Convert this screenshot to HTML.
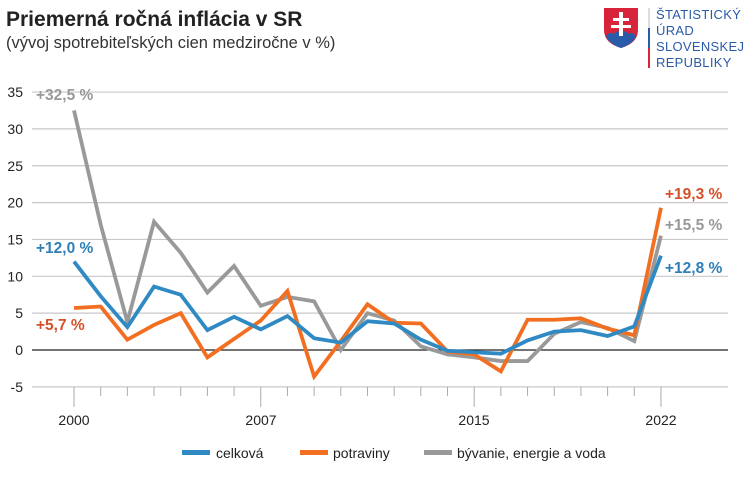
<!DOCTYPE html><html><head><meta charset="utf-8"><style>
body{margin:0;background:#fff;width:753px;height:475px;overflow:hidden;font-family:"Liberation Sans",sans-serif}
</style></head><body>
<svg id="s" width="753" height="475" xmlns="http://www.w3.org/2000/svg" font-family="Liberation Sans, sans-serif">
<text x="6" y="26" font-size="21" font-weight="bold" fill="#222">Priemerná ročná inflácia v SR</text>
<text x="6" y="48" font-size="16.5" fill="#333">(vývoj spotrebiteľských cien medziročne v %)</text>
<path d="M604 8 h34 v22 q0 13 -17 18 q-17 -5 -17 -18z" fill="#d8243a"/>
<path d="M606 36 q4 -5 8 -2 q4 -5 7 -1 q4 -4 7 1 q4 -3 8 2 q-3 8 -15 12 q-12 -4 -15 -12z" fill="#2a5ba8"/>
<path d="M619 12h4v24h-4zM613 18h16v3h-16zM611 25h20v3h-20z" fill="#fff"/>
<rect x="648" y="8" width="2" height="20" fill="#ddd"/><rect x="648" y="28" width="2" height="20" fill="#2a5ba8"/><rect x="648" y="48" width="2" height="20" fill="#d8243a"/>
<g font-size="13" fill="#2a5ba8" letter-spacing="0.3"><text x="656" y="19">ŠTATISTICKÝ</text><text x="656" y="35">ÚRAD</text><text x="656" y="51">SLOVENSKEJ</text><text x="656" y="67">REPUBLIKY</text></g>
<g id="g"></g>
<g font-size="14" fill="#222"><text x="74" y="425" text-anchor="middle">2000</text><text x="261" y="425" text-anchor="middle">2007</text><text x="474" y="425" text-anchor="middle">2015</text><text x="661" y="425" text-anchor="middle">2022</text></g>
<g font-size="15.5" font-weight="bold">
<text x="36" y="100" fill="#999">+32,5 %</text>
<text x="36" y="253" fill="#2e7fb8">+12,0 %</text>
<text x="36" y="330" fill="#d4512a">+5,7 %</text>
<text x="665" y="199" fill="#d4512a">+19,3 %</text>
<text x="665" y="230" fill="#999">+15,5 %</text>
<text x="665" y="273" fill="#2e7fb8">+12,8 %</text>
</g>
<g font-size="14" fill="#222">
<rect x="182" y="450" width="28" height="5" fill="#2f8ac4"/><text x="216" y="458">celková</text>
<rect x="300" y="450" width="28" height="5" fill="#f26f22"/><text x="333" y="458">potraviny</text>
<rect x="424" y="450" width="28" height="5" fill="#999"/><text x="457" y="458">bývanie, energie a voda</text>
</g>
</svg>
<script>
var g=document.getElementById('g'),h='';
function Y(v){return 350-v*7.37}function X(i){return 74+i*26.68}
for(var v=-5;v<=35;v+=5){var y=Y(v);h+='<line x1="32" x2="728" y1="'+y+'" y2="'+y+'" stroke="'+(v==0?'#222':'#c8c8c8')+'" stroke-width="'+(v==0?1.3:1.2)+'"/>';
h+='<text x="23" y="'+(y+5)+'" font-size="14" fill="#222" text-anchor="end">'+v+'</text>';}
for(var i=0;i<=22;i++){var l=(i==0||i==7||i==15||i==22)?20:9;h+='<line x1="'+X(i)+'" x2="'+X(i)+'" y1="'+Y(-5)+'" y2="'+(Y(-5)+l)+'" stroke="#aaa"/>';}
var S=[[ '#999',[32.5,17,3.8,17.4,13.2,7.8,11.4,6.0,7.2,6.6,0.0,5.0,4.0,0.5,-0.6,-1.0,-1.5,-1.5,2.2,3.8,3.0,1.2,15.5]],
['#f26f22',[5.7,5.9,1.4,3.4,5.0,-1.0,1.5,4.0,8.0,-3.6,1.2,6.2,3.7,3.6,-0.2,-0.6,-2.9,4.1,4.1,4.3,2.9,2.0,19.3]],
['#2f8ac4',[12.0,7.3,3.1,8.6,7.5,2.7,4.5,2.8,4.6,1.6,1.0,3.9,3.6,1.4,-0.1,-0.3,-0.5,1.3,2.5,2.7,1.9,3.2,12.8]]];
S.forEach(function(s){h+='<polyline fill="none" stroke="'+s[0]+'" stroke-width="3.8" stroke-linejoin="miter" points="'+s[1].map(function(v,i){return X(i)+','+Y(v)}).join(' ')+'"/>';});
g.innerHTML=h;
</script>
</body></html>
